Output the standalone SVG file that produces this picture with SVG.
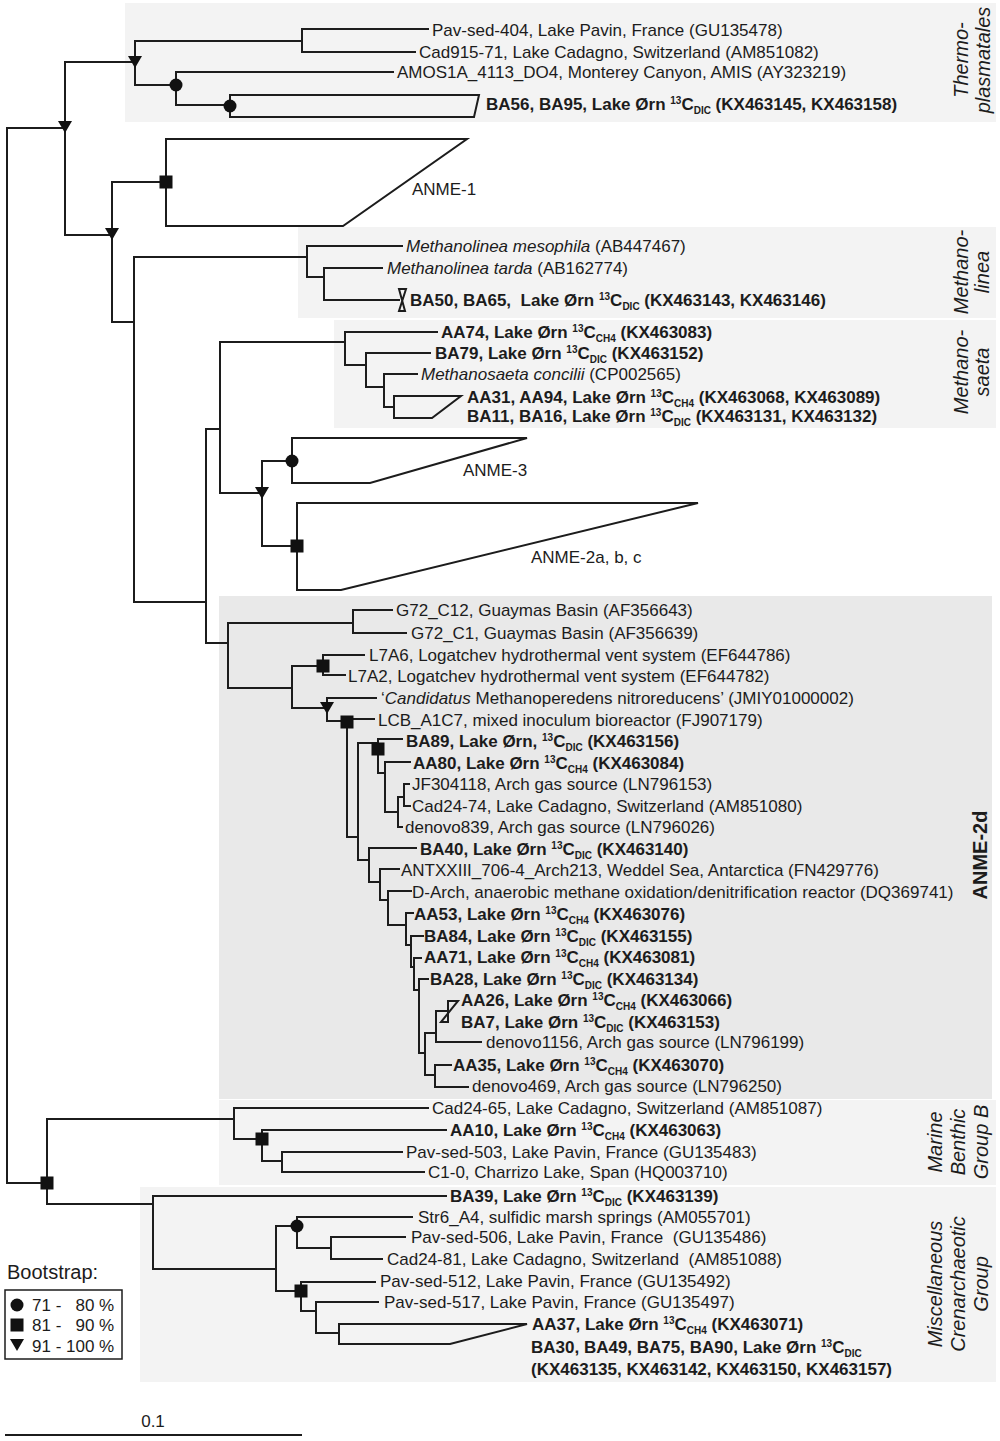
<svg xmlns="http://www.w3.org/2000/svg" width="1000" height="1441" viewBox="0 0 1000 1441">
<style>
.ln{fill:none;stroke:#1c1c1c;stroke-width:2;stroke-linecap:square}
.cl{fill:none;stroke:#1c1c1c;stroke-width:2;stroke-linejoin:miter}
text{font-family:"Liberation Sans",Arial,Helvetica,sans-serif;font-size:17px;fill:#1c1c1c}
.b{font-weight:bold}
.i{font-style:italic}
.sm{font-size:10px}
.grp{font-size:20px;font-style:italic;text-anchor:middle}
.gb{font-size:20px;font-weight:bold;text-anchor:middle}
.bg{fill:#f3f3f3}
.bg2{fill:#e9e9e9}
.mk{fill:#111}
</style>
<defs>
<polygon id="tri" points="-7,-6 7,-6 0,6"/>
<circle id="cir" r="6.5"/>
<rect id="sq" x="-6.5" y="-6.5" width="13" height="13"/>
</defs>
<rect width="1000" height="1441" fill="#ffffff"/>
<g id="group-boxes">
<rect class="bg" x="125" y="3" width="871" height="119"/>
<rect class="bg" x="298" y="227" width="698" height="91"/>
<rect class="bg" x="334" y="320" width="662" height="108"/>
<rect class="bg2" x="219" y="596" width="773" height="503"/>
<rect class="bg" x="219" y="1100" width="777" height="85"/>
<rect class="bg" x="140" y="1187" width="856" height="195"/>
</g>
<g id="connectors">
<path class="ln" d="M7,128 V1183 M7,128 H65 M65,62 V235
M65,62 H135 M135,41 V85 M135,41 H302 M302,29 V52 M302,29 H428 M302,52 H415
M135,85 H176 M176,72 V105 M176,72 H393 M176,105 H230
M65,235 H112 M112,182 V322 M112,182 H166
M112,322 H134 M134,257 V602
M134,257 H307 M307,246 V277 M307,246 H402 M307,277 H324 M324,268 V300 M324,268 H382 M324,300 H399
M134,602 H206 M206,429 V643 M206,429 H220 M220,342 V493
M220,342 H345 M345,332 V365 M345,332 H437 M345,365 H366 M366,353 V387 M366,353 H430 M366,387 H384 M384,374 V407 M384,374 H417 M384,407 H394
M220,493 H262 M262,461 V546 M262,461 H292 M262,546 H297
M206,643 H228 M228,623 V688 M228,623 H353 M353,610 V633 M353,610 H392 M353,633 H406
M228,688 H292 M292,666 V708 M292,666 H323 M323,655 V675 M323,655 H364 M323,675 H345
M292,708 H327 M327,698 V721 M327,698 H376 M327,721 H347 M347,719 V837 M347,719 H374
M347,837 H358 M358,743 V860 M358,743 H378 M378,739 V773 M378,739 H402
M378,773 H385 M385,762 V812 M385,762 H410 M385,812 H398 M398,797 V827 M398,827 H402
M398,797 H404 M404,784 V806 M404,784 H409 M404,806 H410
M358,860 H369 M369,848 V882 M369,848 H416 M369,882 H380 M380,869 V900 M380,869 H399
M380,900 H388 M388,891 V925 M388,891 H411 M388,925 H406 M406,913 V945 M406,913 H413
M406,945 H411 M411,936 V967 M411,936 H423 M411,967 H414 M414,958 V990 M414,958 H421
M414,990 H419 M419,979 V1053 M419,979 H428 M419,1053 H425 M425,1033 V1075
M425,1033 H436 M436,1011 V1042 M436,1011 H448 M436,1042 H481
M425,1075 H435 M435,1065 V1087 M435,1065 H451 M435,1087 H468
M7,1183 H47 M47,1119 V1204 M47,1119 H234 M234,1108 V1139 M234,1108 H428 M234,1139 H262
M262,1130 V1161 M262,1130 H446 M262,1161 H282 M282,1152 V1172 M282,1152 H402 M282,1172 H424
M47,1204 H153 M153,1196 V1269 M153,1196 H446 M153,1269 H276 M276,1226 V1291
M276,1226 H297 M297,1217 V1248 M297,1217 H412 M297,1248 H331 M331,1237 V1259 M331,1237 H405 M331,1259 H382
M276,1291 H301 M301,1282 V1311 M301,1282 H375 M301,1311 H316 M316,1302 V1333 M316,1302 H378 M316,1333 H339"/>
</g>
<g id="collapsed-clades">
<path class="cl" d="M230,95 H479 L474,117 H230 Z"/>
<path class="cl" d="M166,139 H467 L343,226 H166 Z"/>
<path class="cl" d="M399,289 H406 L399,311 H405 Z"/>
<path class="cl" d="M394,396 H461 L432,418 H394 Z"/>
<path class="cl" d="M292,438 H527 L370,483 H292 Z"/>
<path class="cl" d="M297,503 H698 L341,590 H297 Z"/>
<path class="cl" d="M448,1001 H458 L441,1022 H448 Z"/>
<path class="cl" d="M339,1324 H527 L450,1344 H339 Z"/>
</g>
<g id="bootstrap-markers" class="mk">
<use href="#tri" x="65" y="127"/>
<use href="#tri" x="135" y="62"/>
<use href="#tri" x="112" y="234"/>
<use href="#tri" x="262" y="493"/>
<use href="#tri" x="327" y="708"/>
<use href="#cir" x="176" y="85"/>
<use href="#cir" x="230" y="106"/>
<use href="#cir" x="292" y="461"/>
<use href="#cir" x="297" y="1226"/>
<use href="#sq" x="166" y="182"/>
<use href="#sq" x="297" y="546"/>
<use href="#sq" x="323" y="666"/>
<use href="#sq" x="347" y="722"/>
<use href="#sq" x="378" y="749"/>
<use href="#sq" x="47" y="1183"/>
<use href="#sq" x="262" y="1139"/>
<use href="#sq" x="301" y="1291"/>
</g>
<g id="thermoplasmatales">
<g id="n-pav404"><text x="432" y="36">Pav-sed-404, Lake Pavin, France (GU135478)</text></g>
<g id="n-cad915"><text x="419" y="58">Cad915-71, Lake Cadagno, Switzerland (AM851082)</text></g>
<g id="n-amos"><text x="397" y="78">AMOS1A_4113_DO4, Monterey Canyon, AMIS (AY323219)</text></g>
<g id="n-ba56"><text class="b" x="486" y="110">BA56, BA95, Lake Ørn <tspan class="sm" dy="-6">13</tspan><tspan dy="6">C</tspan><tspan class="sm" dy="4">DIC</tspan><tspan dy="-4"> (KX463145, KX463158)</tspan></text></g>
<g id="lbl-thermo"><text class="grp" transform="translate(968,60) rotate(-90)">Thermo-</text><text class="grp" transform="translate(990,60) rotate(-90)">plasmatales</text></g>
</g>
<g id="n-anme1"><text x="412" y="195">ANME-1</text></g>
<g id="methanolinea">
<g id="n-mmeso"><text x="406" y="252"><tspan class="i">Methanolinea mesophila</tspan> (AB447467)</text></g>
<g id="n-mtarda"><text x="387" y="274"><tspan class="i">Methanolinea tarda</tspan> (AB162774)</text></g>
<g id="n-ba50"><text class="b" x="410" y="306" xml:space="preserve">BA50, BA65,  Lake Ørn <tspan class="sm" dy="-6">13</tspan><tspan dy="6">C</tspan><tspan class="sm" dy="4">DIC</tspan><tspan dy="-4"> (KX463143, KX463146)</tspan></text></g>
<g id="lbl-methanolinea"><text class="grp" transform="translate(968,272) rotate(-90)">Methano-</text><text class="grp" transform="translate(989,272) rotate(-90)">linea</text></g>
</g>
<g id="methanosaeta">
<g id="n-aa74"><text class="b" x="441" y="338">AA74, Lake Ørn <tspan class="sm" dy="-6">13</tspan><tspan dy="6">C</tspan><tspan class="sm" dy="4">CH4</tspan><tspan dy="-4"> (KX463083)</tspan></text></g>
<g id="n-ba79"><text class="b" x="435" y="359">BA79, Lake Ørn <tspan class="sm" dy="-6">13</tspan><tspan dy="6">C</tspan><tspan class="sm" dy="4">DIC</tspan><tspan dy="-4"> (KX463152)</tspan></text></g>
<g id="n-mconc"><text x="421" y="380"><tspan class="i">Methanosaeta concilii</tspan> (CP002565)</text></g>
<g id="n-aa31"><text class="b" x="467" y="403">AA31, AA94, Lake Ørn <tspan class="sm" dy="-6">13</tspan><tspan dy="6">C</tspan><tspan class="sm" dy="4">CH4</tspan><tspan dy="-4"> (KX463068, KX463089)</tspan></text></g>
<g id="n-ba11"><text class="b" x="467" y="422">BA11, BA16, Lake Ørn <tspan class="sm" dy="-6">13</tspan><tspan dy="6">C</tspan><tspan class="sm" dy="4">DIC</tspan><tspan dy="-4"> (KX463131, KX463132)</tspan></text></g>
<g id="lbl-methanosaeta"><text class="grp" transform="translate(968,372) rotate(-90)">Methano-</text><text class="grp" transform="translate(989,372) rotate(-90)">saeta</text></g>
</g>
<g id="n-anme3"><text x="463" y="476">ANME-3</text></g>
<g id="n-anme2abc"><text x="531" y="563">ANME-2a, b, c</text></g>
<g id="anme2d">
<g id="n-g72c12"><text x="396" y="616">G72_C12, Guaymas Basin (AF356643)</text></g>
<g id="n-g72c1"><text x="411" y="639">G72_C1, Guaymas Basin (AF356639)</text></g>
<g id="n-l7a6"><text x="369" y="661">L7A6, Logatchev hydrothermal vent system (EF644786)</text></g>
<g id="n-l7a2"><text x="348" y="682">L7A2, Logatchev hydrothermal vent system (EF644782)</text></g>
<g id="n-cand"><text x="381" y="704">‘<tspan class="i">Candidatus</tspan> Methanoperedens nitroreducens’ (JMIY01000002)</text></g>
<g id="n-lcb"><text x="378" y="726">LCB_A1C7, mixed inoculum bioreactor (FJ907179)</text></g>
<g id="n-ba89"><text class="b" x="406" y="747">BA89, Lake Ørn, <tspan class="sm" dy="-6">13</tspan><tspan dy="6">C</tspan><tspan class="sm" dy="4">DIC</tspan><tspan dy="-4"> (KX463156)</tspan></text></g>
<g id="n-aa80"><text class="b" x="413" y="769">AA80, Lake Ørn <tspan class="sm" dy="-6">13</tspan><tspan dy="6">C</tspan><tspan class="sm" dy="4">CH4</tspan><tspan dy="-4"> (KX463084)</tspan></text></g>
<g id="n-jf304118"><text x="412" y="790">JF304118, Arch gas source (LN796153)</text></g>
<g id="n-cad2474"><text x="412" y="812">Cad24-74, Lake Cadagno, Switzerland (AM851080)</text></g>
<g id="n-denovo839"><text x="405" y="833">denovo839, Arch gas source (LN796026)</text></g>
<g id="n-ba40"><text class="b" x="420" y="855">BA40, Lake Ørn <tspan class="sm" dy="-6">13</tspan><tspan dy="6">C</tspan><tspan class="sm" dy="4">DIC</tspan><tspan dy="-4"> (KX463140)</tspan></text></g>
<g id="n-antx"><text x="401" y="876">ANTXXIII_706-4_Arch213, Weddel Sea, Antarctica (FN429776)</text></g>
<g id="n-darch"><text x="412" y="898">D-Arch, anaerobic methane oxidation/denitrification reactor (DQ369741)</text></g>
<g id="n-aa53"><text class="b" x="414" y="920">AA53, Lake Ørn <tspan class="sm" dy="-6">13</tspan><tspan dy="6">C</tspan><tspan class="sm" dy="4">CH4</tspan><tspan dy="-4"> (KX463076)</tspan></text></g>
<g id="n-ba84"><text class="b" x="424" y="942">BA84, Lake Ørn <tspan class="sm" dy="-6">13</tspan><tspan dy="6">C</tspan><tspan class="sm" dy="4">DIC</tspan><tspan dy="-4"> (KX463155)</tspan></text></g>
<g id="n-aa71"><text class="b" x="424" y="963">AA71, Lake Ørn <tspan class="sm" dy="-6">13</tspan><tspan dy="6">C</tspan><tspan class="sm" dy="4">CH4</tspan><tspan dy="-4"> (KX463081)</tspan></text></g>
<g id="n-ba28"><text class="b" x="430" y="985">BA28, Lake Ørn <tspan class="sm" dy="-6">13</tspan><tspan dy="6">C</tspan><tspan class="sm" dy="4">DIC</tspan><tspan dy="-4"> (KX463134)</tspan></text></g>
<g id="n-aa26"><text class="b" x="461" y="1006">AA26, Lake Ørn <tspan class="sm" dy="-6">13</tspan><tspan dy="6">C</tspan><tspan class="sm" dy="4">CH4</tspan><tspan dy="-4"> (KX463066)</tspan></text></g>
<g id="n-ba7"><text class="b" x="461" y="1028">BA7, Lake Ørn <tspan class="sm" dy="-6">13</tspan><tspan dy="6">C</tspan><tspan class="sm" dy="4">DIC</tspan><tspan dy="-4"> (KX463153)</tspan></text></g>
<g id="n-denovo1156"><text x="486" y="1048">denovo1156, Arch gas source (LN796199)</text></g>
<g id="n-aa35"><text class="b" x="453" y="1071">AA35, Lake Ørn <tspan class="sm" dy="-6">13</tspan><tspan dy="6">C</tspan><tspan class="sm" dy="4">CH4</tspan><tspan dy="-4"> (KX463070)</tspan></text></g>
<g id="n-denovo469"><text x="472" y="1092">denovo469, Arch gas source (LN796250)</text></g>
<g id="lbl-anme2d"><text class="gb" transform="translate(987,855) rotate(-90)">ANME-2d</text></g>
</g>
<g id="mbgb">
<g id="n-cad2465"><text x="432" y="1114">Cad24-65, Lake Cadagno, Switzerland (AM851087)</text></g>
<g id="n-aa10"><text class="b" x="450" y="1136">AA10, Lake Ørn <tspan class="sm" dy="-6">13</tspan><tspan dy="6">C</tspan><tspan class="sm" dy="4">CH4</tspan><tspan dy="-4"> (KX463063)</tspan></text></g>
<g id="n-pav503"><text x="406" y="1158">Pav-sed-503, Lake Pavin, France (GU135483)</text></g>
<g id="n-c10"><text x="428" y="1178">C1-0, Charrizo Lake, Span (HQ003710)</text></g>
<g id="lbl-mbgb"><text class="grp" transform="translate(942,1142) rotate(-90)">Marine</text><text class="grp" transform="translate(965,1142) rotate(-90)">Benthic</text><text class="grp" transform="translate(988,1142) rotate(-90)">Group B</text></g>
</g>
<g id="mcg">
<g id="n-ba39"><text class="b" x="450" y="1202">BA39, Lake Ørn <tspan class="sm" dy="-6">13</tspan><tspan dy="6">C</tspan><tspan class="sm" dy="4">DIC</tspan><tspan dy="-4"> (KX463139)</tspan></text></g>
<g id="n-str6"><text x="418" y="1223">Str6_A4, sulfidic marsh springs (AM055701)</text></g>
<g id="n-pav506"><text x="411" y="1243" xml:space="preserve">Pav-sed-506, Lake Pavin, France  (GU135486)</text></g>
<g id="n-cad2481"><text x="387" y="1265" xml:space="preserve">Cad24-81, Lake Cadagno, Switzerland  (AM851088)</text></g>
<g id="n-pav512"><text x="380" y="1287">Pav-sed-512, Lake Pavin, France (GU135492)</text></g>
<g id="n-pav517"><text x="384" y="1308">Pav-sed-517, Lake Pavin, France (GU135497)</text></g>
<g id="n-aa37"><text class="b" x="532" y="1330">AA37, Lake Ørn <tspan class="sm" dy="-6">13</tspan><tspan dy="6">C</tspan><tspan class="sm" dy="4">CH4</tspan><tspan dy="-4"> (KX463071)</tspan></text>
<text class="b" x="531" y="1353">BA30, BA49, BA75, BA90, Lake Ørn <tspan class="sm" dy="-6">13</tspan><tspan dy="6">C</tspan><tspan class="sm" dy="4">DIC</tspan></text>
<text class="b" x="531" y="1375">(KX463135, KX463142, KX463150, KX463157)</text></g>
<g id="lbl-mcg"><text class="grp" transform="translate(942,1284) rotate(-90)">Miscellaneous</text><text class="grp" transform="translate(965,1284) rotate(-90)">Crenarchaeotic</text><text class="grp" transform="translate(988,1284) rotate(-90)">Group</text></g>
</g>
<g id="legend">
<text x="7" y="1279" style="font-size:20px">Bootstrap:</text>
<rect x="5" y="1290" width="117" height="69" fill="#ffffff" stroke="#1c1c1c" stroke-width="1.5"/>
<use class="mk" href="#cir" x="17" y="1305"/>
<use class="mk" href="#sq" x="17" y="1325"/>
<use class="mk" href="#tri" x="17" y="1345"/>
<text x="32" y="1311" xml:space="preserve">71 -   80 %</text>
<text x="32" y="1331" xml:space="preserve">81 -   90 %</text>
<text x="32" y="1352">91 - 100 %</text>
</g>
<g id="scale-bar">
<path class="ln" d="M5,1435 H302" style="stroke-linecap:butt"/>
<text x="153" y="1427" text-anchor="middle">0.1</text>
</g>
</svg>
